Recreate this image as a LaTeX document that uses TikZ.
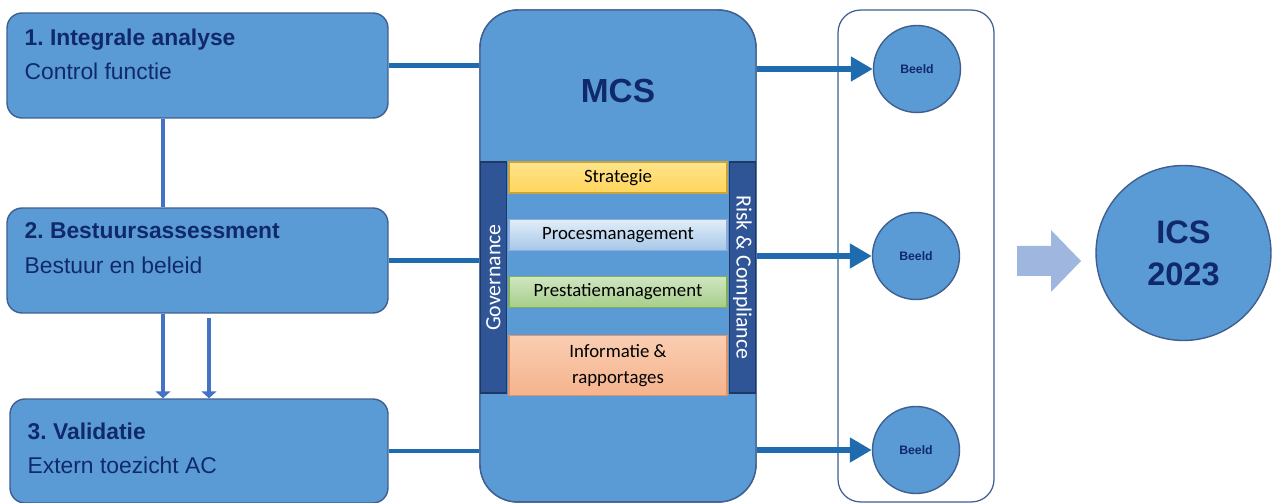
\documentclass[tikz,border=0pt]{standalone}
\usepackage{fontspec}
\setmainfont{Liberation Sans}
\newfontfamily\calibri{Carlito}
\usetikzlibrary{arrows.meta,positioning}
\frenchspacing

\definecolor{boxblue}{HTML}{5B9BD5}
\definecolor{boxline}{HTML}{3E5F8F}
\definecolor{navy}{HTML}{10296B}
\definecolor{linkblue}{HTML}{1E6BB0}
\definecolor{vblue}{HTML}{4472C4}
\definecolor{barblue}{HTML}{2F5597}
\definecolor{bardark}{HTML}{1F3864}
\definecolor{fatblue}{HTML}{9FB7DE}
\definecolor{stratTop}{HTML}{FFE48A}
\definecolor{stratBot}{HTML}{FFD55C}
\definecolor{stratLine}{HTML}{C9A43A}
\definecolor{procTop}{HTML}{E2EEF9}
\definecolor{procBot}{HTML}{A6C7E8}
\definecolor{procLine}{HTML}{8FAADC}
\definecolor{prestTop}{HTML}{D0E6C1}
\definecolor{prestBot}{HTML}{A6CE8A}
\definecolor{prestLine}{HTML}{7FAE5C}
\definecolor{infoTop}{HTML}{FACDB1}
\definecolor{infoBot}{HTML}{F5B38D}
\definecolor{infoLine}{HTML}{E0946A}

\begin{document}
\begin{tikzpicture}[
    x=0.02cm, y=-0.02cm,
    stage/.style={rectangle,rounded corners=0.3cm,draw=boxline,fill=boxblue,line width=0.8pt,minimum width=7.62cm,minimum height=2.1cm,inner sep=0pt},
    stagetext/.style={anchor=north west,inner sep=0pt,align=left,text=navy,font=\fontsize{13}{19.8}\selectfont},
    hub/.style={rectangle,rounded corners=0.75cm,draw=boxline,fill=boxblue,line width=0.8pt,minimum width=5.52cm,minimum height=9.84cm,inner sep=0pt},
    sidebar/.style={rectangle,draw=bardark,fill=barblue,line width=0.8pt,minimum width=4.62cm,minimum height=0.52cm,inner sep=0pt,text=white,font=\calibri\fontsize{12.4}{14}\selectfont},
    layer/.style={rectangle,line width=0.7pt,minimum width=4.36cm,minimum height=0.62cm,inner sep=0pt,align=center,font=\calibri\fontsize{10.7}{15.3}\selectfont},
    beeld/.style={circle,draw=boxline,fill=boxblue,line width=0.8pt,minimum size=1.74cm,inner sep=0pt,text=navy,font=\bfseries\fontsize{7}{8}\selectfont},
    link/.style={draw=linkblue,line width=2.8pt},
    vlink/.style={draw=vblue,line width=2.6pt},
    outlink/.style={draw=linkblue,line width=3.2pt,-{Triangle[length=12.5pt,width=13.5pt]}}
]
\useasboundingbox (0,0) rectangle (1279,503);

% Frame round the three results
\node[rectangle,rounded corners=0.45cm,draw=boxline,fill=white,line width=0.7pt,minimum width=3.12cm,minimum height=9.84cm] (frame) at (916,256) {};

% Stages
\node[stage] (b1) at (197.5,65.5) {};
\node[stage] (b2) at (197.5,260.5) {};
\node[stage,minimum width=7.56cm,minimum height=2.08cm] (b3) at (199,451) {};
\node[stagetext,below right=0.32cm and 0.36cm of b1.north west,anchor=north west] (t1) {\textbf{1. Integrale analyse}\\Control functie};
\node[stagetext,below right=0.3cm and 0.36cm of b2.north west,anchor=north west] (t2) {\textbf{2. Bestuursassessment}\\Bestuur en beleid};
\node[stagetext,below right=0.48cm and 0.36cm of b3.north west,anchor=north west] (t3) {\textbf{3. Validatie}\\Extern toezicht AC};

% Links between stages
\draw[vlink] ([xshift=-0.69cm]b1.south) -- ([xshift=-0.69cm]b2.north);
\draw[vlink,-{Triangle[length=4pt,width=8.5pt]}] ([xshift=-0.69cm]b2.south) -- ([xshift=-0.69cm]b2.south |- b3.north);
\draw[vlink,-{Triangle[length=4pt,width=8.5pt]}] ([xshift=0.23cm,yshift=-0.08cm]b2.south) -- ([xshift=0.23cm]b2.south |- b3.north);

% Links into MCS
\node[hub] (mcs) at (618,256) {};
\draw[link] (b1.east) -- (b1.east -| mcs.west);
\draw[link] (b2.east) -- (b2.east -| mcs.west);
\draw[link] (b3.east) -- (b3.east -| mcs.west);
\node[hub] (mcs) at (618,256) {};
\node[below=1.4cm of mcs.north,inner sep=0pt,text=navy,font=\bfseries\fontsize{19}{22}\selectfont] (mcstitle) {MCS};

% MCS layers
\node[sidebar,rotate=90] (gov) at (493.5,277.5) {Governance};
\node[sidebar,rotate=-90] (risk) at (742.5,277.5) {Risk \& Compliance};
\node[layer,draw=stratLine,top color=stratTop,bottom color=stratBot] (strat) at (618,177.5) {Strategie};
\node[layer,draw=procLine,top color=procTop,bottom color=procBot,below=0.5cm of strat] (proc) {Procesmanagement};
\node[layer,draw=prestLine,top color=prestTop,bottom color=prestBot,below=0.5cm of proc] (prest) {Prestatiemanagement};
\node[layer,draw=infoLine,top color=infoTop,bottom color=infoBot,minimum height=1.2cm,below=0.54cm of prest] (info) {Informatie \&\\rapportages};

% Results
\node[beeld] (c1) at (917,69) {Beeld};
\node[beeld] (c2) at (916,256) {Beeld};
\node[beeld] (c3) at (916,450) {Beeld};
\draw[outlink] (mcs.east |- c1) -- (c1);
\draw[outlink] (mcs.east |- c2) -- (c2);
\draw[outlink] (mcs.east |- c3) -- (c3);

% Outcome
\fill[fatblue] (1017,246) -- (1051,246) -- (1051,230) -- (1081,261) -- (1051,292) -- (1051,276) -- (1017,276) -- cycle;
\node[circle,draw=boxline,fill=boxblue,line width=0.8pt,minimum size=3.5cm,inner sep=0pt,align=center,text=navy,font=\bfseries\fontsize{18.5}{23.8}\selectfont] (ics) at (1183.5,253) {ICS\\2023};

\end{tikzpicture}
\end{document}
